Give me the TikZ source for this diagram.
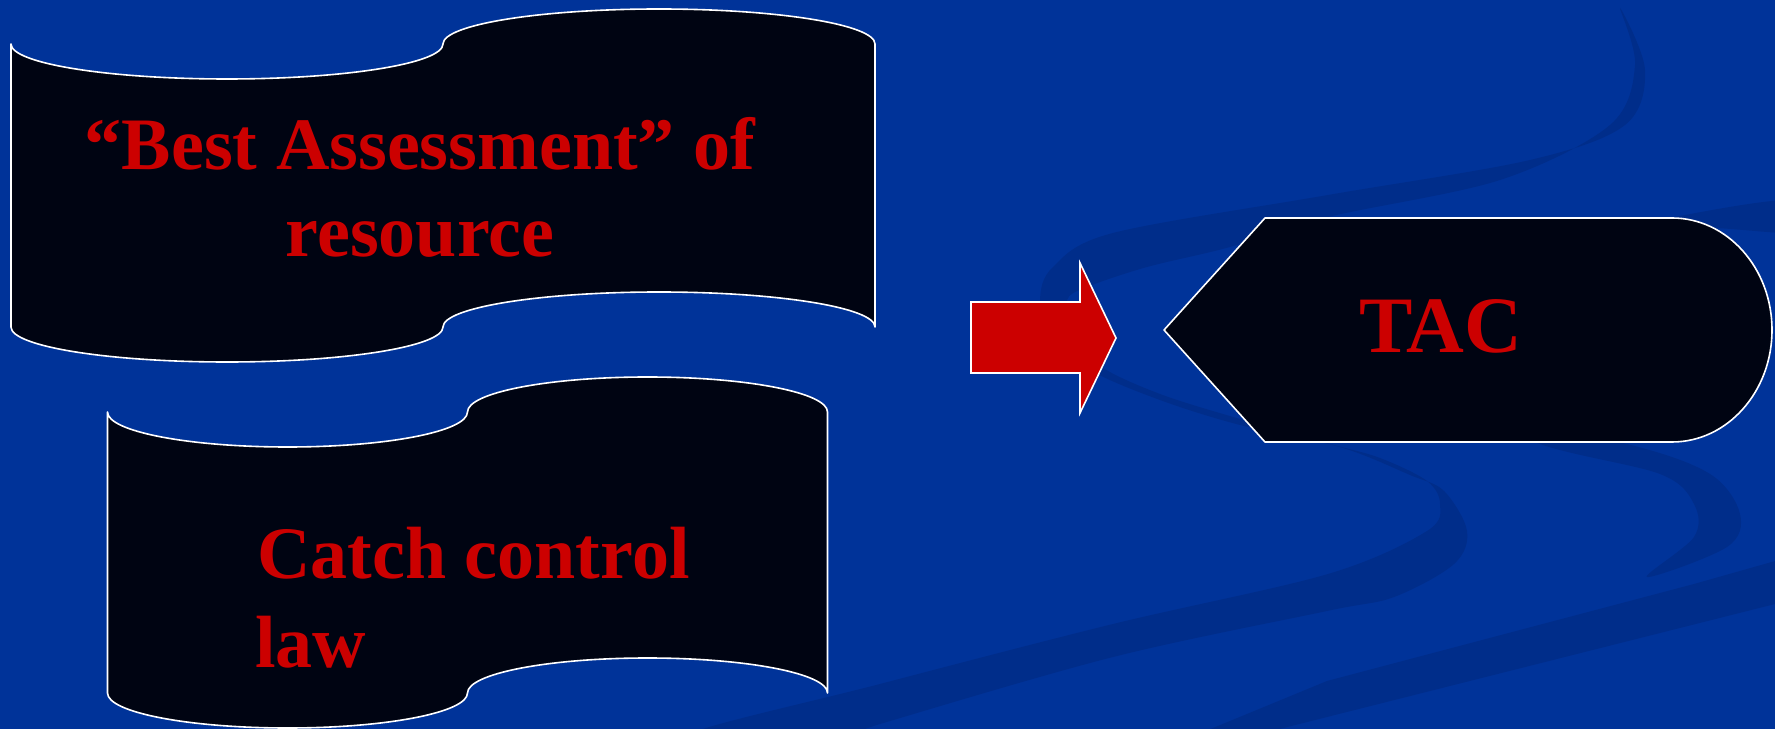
\documentclass[tikz,border=0pt]{standalone}
\usepackage{fontspec}
\setmainfont{Liberation Serif}
\definecolor{bgblue}{RGB}{0,51,153}
\definecolor{bandblue}{RGB}{0,45,138}
\definecolor{panelfill}{RGB}{0,4,18}
\definecolor{txtred}{RGB}{204,0,0}
\tikzset{
  panel/.style={fill=panelfill, draw=white, line width=0.8pt, line join=round},
  band/.style={fill=bandblue},
  blockarrow/.style={fill=txtred, draw=white, line width=0.8pt, line join=miter},
  redtxt/.style={text=txtred, font=\fontsize{37}{43}\selectfont\bfseries, inner sep=0pt},
  tactxt/.style={text=txtred, font=\fontsize{40}{46}\selectfont\bfseries, inner sep=0pt},
}
\begin{document}
\begin{tikzpicture}[x=0.5pt,y=0.5pt]
\useasboundingbox (0,0) rectangle (1775,728);
\begin{scope}
\clip (-6,-6) rectangle (1781,734);
\fill[bgblue] (-6,-6) rectangle (1781,734);
% background swooshes
\fill[band] plot[smooth cycle, tension=0.55] coordinates {
  (1620,720) (1645,658) (1625,603) (1530,568) (1328,533) (1113,495) (1053,461)
  (1040,428) (1050,393) (1090,358) (1160,328) (1240,303) (1340,281) (1410,253)
  (1444,237) (1467,197) (1454,164) (1394,131) (1327,117) (1113,71) (880,4) (845,-8)
  (686,-8) (880,44) (1113,104) (1328,154) (1427,197) (1440,224) (1427,247)
  (1380,270) (1330,284) (1240,309) (1160,334) (1100,362) (1070,396) (1067,428)
  (1087,441) (1147,461) (1230,481) (1328,511) (1500,548) (1610,603) (1635,663)};
\fill[band] plot[smooth cycle, tension=0.55] coordinates {
  (1800,528) (1680,512) (1500,470) (1380,400) (1450,320) (1627,284) (1710,254)
  (1740,214) (1727,181) (1647,151) (1694,191) (1694,224) (1660,254) (1540,284)
  (1450,330) (1470,420) (1580,480) (1690,500) (1800,496)};
\fill[band] (1184,-12) -- (1213,0) -- (1327,47) -- (1694,144) -- (1800,174)
  -- (1800,118) -- (1775,124) -- (1327,11) -- (1240,-11) -- cycle;
% top banner (punched tape)
\draw[panel] (11,684) arc[start angle=180, end angle=360, x radius=216, y radius=35]
  arc[start angle=180, end angle=0, x radius=216, y radius=35]
  -- (875,401)
  arc[start angle=0, end angle=180, x radius=216, y radius=35]
  arc[start angle=0, end angle=-180, x radius=216, y radius=35]
  -- cycle;
% bottom banner
\draw[panel] (107.5,316) arc[start angle=180, end angle=360, x radius=180, y radius=35]
  arc[start angle=180, end angle=0, x radius=180, y radius=35]
  -- (827.5,35)
  arc[start angle=0, end angle=180, x radius=180, y radius=35]
  arc[start angle=0, end angle=-180, x radius=180, y radius=35]
  -- cycle;
% block arrow
\draw[blockarrow] (971,426) -- (1080,426) -- (1080,465) -- (1116,390)
  -- (1080,315) -- (1080,355) -- (971,355) -- cycle;
% TAC display shape
\draw[panel] (1164,398) -- (1265,510) -- (1672,510)
  arc[start angle=90, end angle=-90, x radius=100, y radius=112]
  -- (1265,286) -- cycle;
\end{scope}
% texts
\node[redtxt, anchor=base] (bestA) at (420,558) {“Best Assessment” of};
\node[redtxt, anchor=base] (bestB) at (420,471) {resource};
\node[redtxt, anchor=base west] (catchA) at (257,150) {Catch control};
\node[redtxt, anchor=base west] (catchB) at (255,61) {law};
\node[tactxt, anchor=base] (tac) at (1441,375) {TAC};
\end{tikzpicture}
\end{document}
